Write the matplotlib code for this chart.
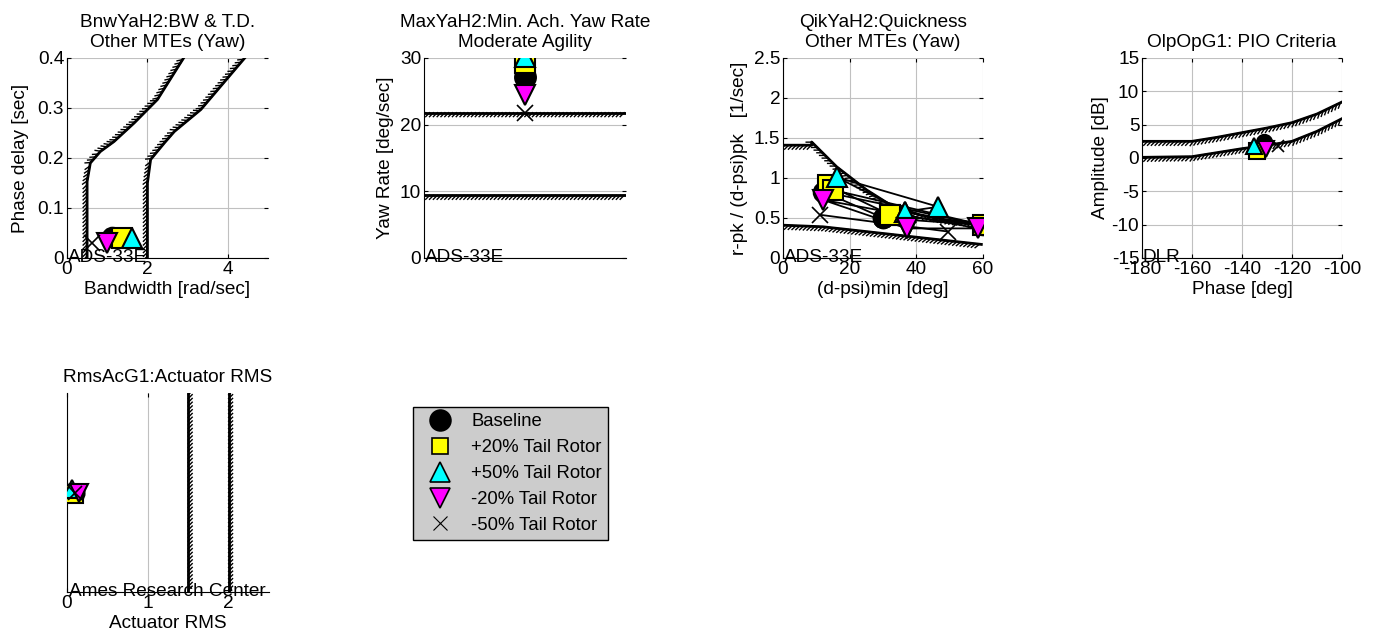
import numpy as np
import matplotlib.pyplot as plt
import matplotlib.patheffects as pe
from matplotlib.ticker import FormatStrFormatter

plt.rcParams['font.family'] = ['Liberation Sans', 'DejaVu Sans']
plt.rcParams['axes.unicode_minus'] = False
plt.rcParams['font.size'] = 13.7

# series styling
names = ['Baseline', '+20% Tail Rotor', '+50% Tail Rotor', '-20% Tail Rotor', '-50% Tail Rotor']
face = ['black', 'yellow', 'cyan', 'magenta', 'none']
marks = ['o', 's', '^', 'v', 'x']

# BnwYaH2: bandwidth / phase delay
bw_x = [1.11, 1.36, 1.61, 0.99, 0.61]
bw_y = [0.041, 0.039, 0.039, 0.030, 0.029]
bw_lvl1_x = [0.5, 0.5, 0.58, 0.83, 1.17, 1.67, 2.25, 2.9]
bw_lvl1_y = [0.0, 0.153, 0.19, 0.213, 0.233, 0.27, 0.317, 0.4]
bw_lvl2_x = [2.0, 2.0, 2.08, 2.42, 2.67, 3.33, 4.42]
bw_lvl2_y = [0.0, 0.15, 0.197, 0.23, 0.253, 0.297, 0.4]

# MaxYaH2: min achievable yaw rate
yaw_rate = [27.2, 29.3, 30.2, 24.5, 21.8]
yaw_lvl1 = 21.8
yaw_lvl2 = 9.4

# QikYaH2: quickness (points of each series joined in order)
qk_x = [[30.1, 12.1, 60.0, 30.1],
        [32.1, 13.6, 15.1, 60.1, 32.1],
        [36.6, 16.1, 46.6, 36.6],
        [37.1, 12.1, 58.6, 37.1],
        [49.6, 11.1]]
qk_y = [[0.50, 0.83, 0.41, 0.50],
        [0.54, 0.91, 0.85, 0.41, 0.54],
        [0.58, 1.01, 0.64, 0.58],
        [0.37, 0.725, 0.37, 0.37],
        [0.33, 0.54]]
qk_upper_x = [0, 8.6, 8.6, 16.1, 25.1, 33.1, 41.1, 49.1, 59.5]
qk_upper_y = [1.41, 1.41, 1.45, 1.14, 0.85, 0.64, 0.54, 0.475, 0.43]
qk_lower_x = [0, 12, 25, 40, 59.5]
qk_lower_y = [0.41, 0.39, 0.33, 0.26, 0.17]

# OlpOpG1: PIO criteria
pio_x = [-131.3, -134.0, -135.1, -130.3, -125.7]
pio_y = [2.4, 1.0, 1.75, 1.4, 1.75]
pio_upper_x = [-180, -160, -150, -140, -130, -120, -110, -100]
pio_upper_y = [2.5, 2.5, 3.1, 3.8, 4.5, 5.3, 6.6, 8.4]
pio_lower_x = [-180, -160, -150, -140, -130, -120, -110, -100]
pio_lower_y = [0.1, 0.2, 0.8, 1.4, 1.9, 2.5, 4.0, 5.9]

# RmsAcG1: actuator rms
rms_x = [0.10, 0.09, 0.06, 0.15, 0.10]
rms_y = [1.0, 0.98, 1.04, 1.0, 1.0]
rms_lvl = [1.5, 2.0]

W, H = 1373, 641
fig = plt.figure(figsize=(W / 100, H / 100), dpi=100)


def box(l, t, w, h):
    return [l / W, 1 - (t + h) / H, w / W, h / H]


def style(ax):
    ax.grid(True, color='#c0c0c0', lw=0.8)
    ax.set_axisbelow(True)
    ax.tick_params(direction='in', length=3, top=True, right=True, pad=2)
    ax.spines['top'].set_visible(False)
    ax.spines['right'].set_visible(False)
    ax.xaxis.set_major_formatter(FormatStrFormatter('%g'))
    ax.yaxis.set_major_formatter(FormatStrFormatter('%g'))


def hatched(ax, x, y, angle):
    ax.plot(x, y, color='black', lw=2.0, zorder=2)
    ax.plot(x, y, color='black', lw=1.0, zorder=2,
            path_effects=[pe.withTickedStroke(angle=angle, spacing=2.7, length=1.5)])


def points(ax, xs, ys, ms=14):
    for i in range(len(xs)):
        if marks[i] == 'x':
            ax.plot(xs[i], ys[i], marks[i], color='black', ms=ms * 0.8, mew=1.2, zorder=4)
        else:
            ax.plot(xs[i], ys[i], marks[i], mfc=face[i], mec='black', ms=ms, mew=1.5, zorder=4)


def title2(ax, s):
    ax.set_title(s, fontsize=13.7, pad=8, linespacing=1.2)


# --- BnwYaH2
ax1 = fig.add_axes(box(67, 58, 201, 200))
style(ax1)
hatched(ax1, bw_lvl1_x, bw_lvl1_y, 135)
hatched(ax1, bw_lvl2_x, bw_lvl2_y, 135)
points(ax1, bw_x, bw_y)
ax1.set_xlim(0, 5)
ax1.set_ylim(0, 0.4)
ax1.set_xticks([0, 2, 4])
ax1.set_yticks([0, 0.1, 0.2, 0.3, 0.4])
title2(ax1, 'BnwYaH2:BW & T.D.\nOther MTEs (Yaw)')
ax1.set_xlabel('Bandwidth [rad/sec]', labelpad=2)
ax1.set_ylabel('Phase delay [sec]', labelpad=6)
ax1.text(0.02, 0, 'ADS-33E', ha='left', va='center', zorder=5)

# --- MaxYaH2
ax2 = fig.add_axes(box(424, 58, 202, 200))
style(ax2)
hatched(ax2, [0, 2], [yaw_lvl1, yaw_lvl1], -135)
hatched(ax2, [0, 2], [yaw_lvl2, yaw_lvl2], -135)
points(ax2, [1] * 5, yaw_rate, ms=15)
ax2.set_xlim(0, 2)
ax2.set_ylim(0, 30)
ax2.set_xticks([])
ax2.set_yticks([0, 10, 20, 30])
title2(ax2, 'MaxYaH2:Min. Ach. Yaw Rate\nModerate Agility')
ax2.set_ylabel('Yaw Rate [deg/sec]', labelpad=4)
ax2.text(0.01, 0, 'ADS-33E', ha='left', va='center', zorder=5)

# --- QikYaH2
ax3 = fig.add_axes(box(783, 58, 200, 200))
style(ax3)
hatched(ax3, qk_upper_x, qk_upper_y, -135)
hatched(ax3, qk_lower_x, qk_lower_y, -135)
for i in range(len(qk_x)):
    ax3.plot(qk_x[i], qk_y[i], '-', color='black', lw=1.3, zorder=3)
for i in range(len(qk_x)):
    if marks[i] == 'x':
        ax3.plot(qk_x[i], qk_y[i], 'x', color='black', ms=11, mew=1.2, zorder=4)
    else:
        ax3.plot(qk_x[i], qk_y[i], marks[i], mfc=face[i], mec='black', ms=14, mew=1.5,
                 ls='none', zorder=4)
ax3.set_xlim(0, 60)
ax3.set_ylim(0, 2.5)
ax3.set_xticks([0, 20, 40, 60])
ax3.set_yticks([0, 0.5, 1, 1.5, 2, 2.5])
title2(ax3, 'QikYaH2:Quickness\nOther MTEs (Yaw)')
ax3.set_xlabel('(d-psi)min [deg]', labelpad=2)
ax3.set_ylabel('r-pk / (d-psi)pk   [1/sec]', labelpad=4)
ax3.text(0.2, 0, 'ADS-33E', ha='left', va='center', zorder=5)

# --- OlpOpG1
ax4 = fig.add_axes(box(1142, 58, 200, 200))
style(ax4)
hatched(ax4, pio_upper_x, pio_upper_y, -135)
hatched(ax4, pio_lower_x, pio_lower_y, -135)
points(ax4, pio_x, pio_y, ms=11)
ax4.set_xlim(-180, -100)
ax4.set_ylim(-15, 15)
ax4.set_xticks([-180, -160, -140, -120, -100])
ax4.set_yticks([-15, -10, -5, 0, 5, 10, 15])
title2(ax4, 'OlpOpG1: PIO Criteria')
ax4.set_xlabel('Phase [deg]', labelpad=2)
ax4.set_ylabel('Amplitude [dB]', labelpad=2)
ax4.text(-179.6, -15, 'DLR', ha='left', va='center', zorder=5)

# --- RmsAcG1
ax5 = fig.add_axes(box(67, 393, 202, 199))
style(ax5)
ax5.grid(True, axis='x', color='#c0c0c0', lw=0.8)
ax5.grid(False, axis='y')
for v in rms_lvl:
    hatched(ax5, [v, v], [0, 2], -45)
points(ax5, rms_x, rms_y, ms=13)
ax5.set_xlim(0, 2.5)
ax5.set_ylim(0, 2)
ax5.set_xticks([0, 1, 2])
ax5.set_yticks([])
title2(ax5, 'RmsAcG1:Actuator RMS')
ax5.set_xlabel('Actuator RMS', labelpad=2)
ax5.text(0.02, 0, 'Ames Research Center', ha='left', va='center', zorder=5)

# legend
handles = []
for i in range(5):
    if marks[i] == 'x':
        h, = ax5.plot([], [], 'x', color='black', ms=10, mew=0.8)
    elif marks[i] == 's':
        h, = ax5.plot([], [], marks[i], mfc=face[i], mec='black', ms=12, mew=1.2)
    else:
        h, = ax5.plot([], [], marks[i], mfc=face[i], mec='black', ms=15, mew=1.2)
    handles.append(h)
fig.legend(handles, names, loc='upper left', bbox_to_anchor=(413 / W, 1 - 407 / H),
           fancybox=False, framealpha=1, facecolor='#cccccc', edgecolor='black',
           fontsize=13.3, labelspacing=0.48, handletextpad=0.6, borderpad=0.35,
           borderaxespad=0, handlelength=2.2)

fig.savefig('out.png', dpi=100)
